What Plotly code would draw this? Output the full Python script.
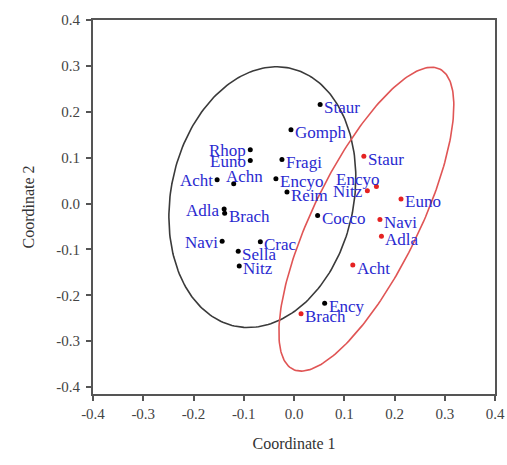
import numpy as np
import plotly.graph_objects as go

# ---- data ----
g1_labels = ["Staur", "Gomph", "Rhop", "Euno", "Fragi", "Achn", "Acht", "Encyo", "Reim",
             "Adla", "Brach", "Cocco", "Navi", "Crac", "Sella", "Nitz", "Ency"]
g1_x = [0.052, -0.006, -0.087, -0.087, -0.024, -0.120, -0.153, -0.036, -0.014,
        -0.139, -0.138, 0.047, -0.143, -0.067, -0.111, -0.109, 0.061]
g1_y = [0.216, 0.161, 0.117, 0.094, 0.096, 0.043, 0.052, 0.054, 0.025,
        -0.012, -0.021, -0.026, -0.082, -0.083, -0.104, -0.136, -0.217]

g2_labels = ["Staur", "Encyo", "Nitz", "Euno", "Navi", "Adla", "Acht", "Brach"]
g2_x = [0.139, 0.164, 0.146, 0.213, 0.171, 0.174, 0.117, 0.014]
g2_y = [0.103, 0.037, 0.028, 0.010, -0.035, -0.071, -0.134, -0.240]

tick_vals = [-0.4, -0.3, -0.2, -0.1, 0.0, 0.1, 0.2, 0.3, 0.4]
tick_text = ["-0.4", "-0.3", "-0.2", "-0.1", "0.0", "0.1", "0.2", "0.3", "0.4"]

# 95% ellipses: centre and shape matrix (x'M^-1 x = 1)
ell1_center = [-0.063, 0.014]
ell1_shape = [[0.0346, 0.0080], [0.0080, 0.0807]]
ell2_center = [0.144, -0.034]
ell2_shape = [[0.0303, 0.0430], [0.0430, 0.1096]]

# label placement (style): R = right, L = left, T = top, TL = top-left
g1_side = ["R", "R", "L", "L", "R", "T", "L", "R", "R", "L", "R", "R", "L", "R", "R", "R", "R"]
g2_side = ["R", "TL", "L", "R", "R", "R", "R", "R"]

SERIF = "Liberation Serif"
LABEL_COLOR = "#2a2ad0"


def ellipse(center, shape, n=240):
    vals, vecs = np.linalg.eigh(np.array(shape))
    t = np.linspace(0, 2 * np.pi, n)
    circ = np.vstack([np.cos(t), np.sin(t)])
    e = vecs @ (np.sqrt(vals)[:, None] * circ) + np.array(center)[:, None]
    return e[0], e[1]


fig = go.Figure()

ex1, ey1 = ellipse(ell1_center, ell1_shape)
ex2, ey2 = ellipse(ell2_center, ell2_shape)
fig.add_trace(go.Scatter(x=ex1, y=ey1, mode="lines", line=dict(color="#3a3a3a", width=1.6),
                         hoverinfo="skip", showlegend=False))
fig.add_trace(go.Scatter(x=ex2, y=ey2, mode="lines", line=dict(color="#e05555", width=1.6),
                         hoverinfo="skip", showlegend=False))

fig.add_trace(go.Scatter(x=g1_x, y=g1_y, mode="markers", marker=dict(color="black", size=5),
                         showlegend=False))
fig.add_trace(go.Scatter(x=g2_x, y=g2_y, mode="markers", marker=dict(color="#e52222", size=5),
                         showlegend=False))

place = {
    "R": dict(xanchor="left", yanchor="middle", xshift=2, yshift=-3),
    "L": dict(xanchor="right", yanchor="middle", xshift=-2, yshift=-1),
    "T": dict(xanchor="center", yanchor="bottom", xshift=11, yshift=-4),
    "TL": dict(xanchor="right", yanchor="bottom", xshift=5, yshift=-4),
}

for xs, ys, labs, sides in [(g1_x, g1_y, g1_labels, g1_side), (g2_x, g2_y, g2_labels, g2_side)]:
    for x, y, lab, s in zip(xs, ys, labs, sides):
        fig.add_annotation(x=x, y=y, text=lab, showarrow=False,
                           font=dict(family=SERIF, size=17, color=LABEL_COLOR), **place[s])

axis_common = dict(
    showline=True, linecolor="#555555", linewidth=2, mirror=True,
    ticks="outside", ticklen=5, tickwidth=1.5, tickcolor="#555555",
    showgrid=False, zeroline=False, automargin=False,
    tickvals=tick_vals, ticktext=tick_text,
    tickfont=dict(family=SERIF, size=15, color="#444444"),
)

fig.update_layout(
    width=507, height=465,
    margin=dict(l=93, r=12, t=20, b=71),
    paper_bgcolor="white", plot_bgcolor="white",
    hovermode=False,
    xaxis=dict(range=[-0.4, 0.4],
               title=dict(text="Coordinate 1", font=dict(family=SERIF, size=16, color="#333333"),
                          standoff=17),
               **axis_common),
    yaxis=dict(range=[-0.415, 0.4], ticklabelstandoff=3,
               title=dict(text="Coordinate 2", font=dict(family=SERIF, size=16, color="#333333"),
                          standoff=18),
               **axis_common),
)

fig.write_html("out.html", config={"displayModeBar": False},
               post_script="document.body.style.margin='0';")
